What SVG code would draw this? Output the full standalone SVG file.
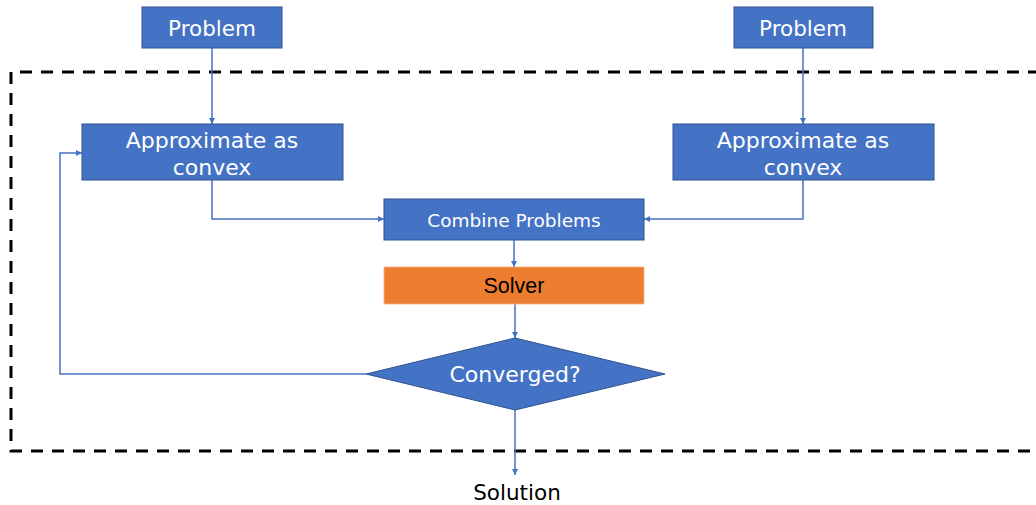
<svg xmlns="http://www.w3.org/2000/svg" width="1036" height="505" viewBox="0 0 1036 505">
  <style>
    .box { fill: #4472C4; stroke: #2F528F; stroke-width: 1; }
    .solver { fill: #ED7D31; stroke: #F4B183; stroke-width: 0.8; }
    .lbl { font-family: "DejaVu Sans", "Open Sans", sans-serif; font-size: 21.5px; fill: #FFFFFF; text-anchor: middle; }
    .lbl-two { font-family: "DejaVu Sans", "Open Sans", sans-serif; font-size: 22px; fill: #FFFFFF; text-anchor: middle; }
    .lbl-dia { font-family: "DejaVu Sans", "Open Sans", sans-serif; font-size: 22px; fill: #FFFFFF; text-anchor: middle; }
    .lbl-sm { font-family: "DejaVu Sans", "Open Sans", sans-serif; font-size: 18.5px; fill: #FFFFFF; text-anchor: middle; }
    .lbl-dark { font-family: "Liberation Sans", Arial, sans-serif; font-size: 21.5px; fill: #000000; text-anchor: middle; }
    .lbl-out { font-family: "DejaVu Sans", "Open Sans", sans-serif; font-size: 21.5px; fill: #000000; text-anchor: middle; }
    .conn { fill: none; stroke: #4472C4; stroke-width: 1.5; marker-end: url(#arrow); }
    .frame { fill: none; stroke: #000000; stroke-width: 3; stroke-dasharray: 12 9; }
  </style>
  <defs>
    <marker id="arrow" viewBox="0 0 10 10" refX="10" refY="5" markerWidth="6" markerHeight="6" markerUnits="userSpaceOnUse" orient="auto">
      <path d="M0,0 L10,5 L0,10 z" fill="#4472C4"/>
    </marker>
  </defs>

  <rect width="1036" height="505" fill="#FFFFFF"/>

  <!-- dashed iteration frame, open past the right edge -->
  <path class="frame" d="M1040,72 L11,72 L11,451 L1040,451"/>

  <g id="connectors">
    <path class="conn" d="M212,48 L212,124"/>
    <path class="conn" d="M803,48 L803,124"/>
    <path class="conn" d="M212,180 L212,219 L384,219"/>
    <path class="conn" d="M803,180 L803,219 L644,219"/>
    <path class="conn" d="M514,240 L514,267"/>
    <path class="conn" d="M515,304 L515,338"/>
    <path class="conn" d="M366,374 L60,374 L60,153 L82,153"/>
    <path class="conn" d="M515,410 L515,475"/>
  </g>

  <g id="problem-left">
    <rect class="box" x="142" y="7" width="140" height="41"/>
    <text class="lbl" x="212" y="36">Problem</text>
  </g>

  <g id="problem-right">
    <rect class="box" x="734" y="7" width="139" height="41"/>
    <text class="lbl" x="803" y="36">Problem</text>
  </g>

  <g id="approx-left">
    <rect class="box" x="82" y="124" width="261" height="56"/>
    <text class="lbl-two" x="212" y="148"><tspan x="212">Approximate as</tspan><tspan x="212" dy="27">convex</tspan></text>
  </g>

  <g id="approx-right">
    <rect class="box" x="673" y="124" width="261" height="56"/>
    <text class="lbl-two" x="803" y="148"><tspan x="803">Approximate as</tspan><tspan x="803" dy="27">convex</tspan></text>
  </g>

  <g id="combine">
    <rect class="box" x="384" y="199" width="260" height="41"/>
    <text class="lbl-sm" x="514" y="227">Combine Problems</text>
  </g>

  <g id="solver">
    <rect class="solver" x="384" y="267" width="260" height="37"/>
    <text class="lbl-dark" x="514" y="293">Solver</text>
  </g>

  <g id="converged">
    <polygon class="box" points="515,338 665,374 515,410 366,374"/>
    <text class="lbl-dia" x="515" y="382">Converged?</text>
  </g>

  <g id="solution">
    <text class="lbl-out" x="517" y="500">Solution</text>
  </g>
</svg>
